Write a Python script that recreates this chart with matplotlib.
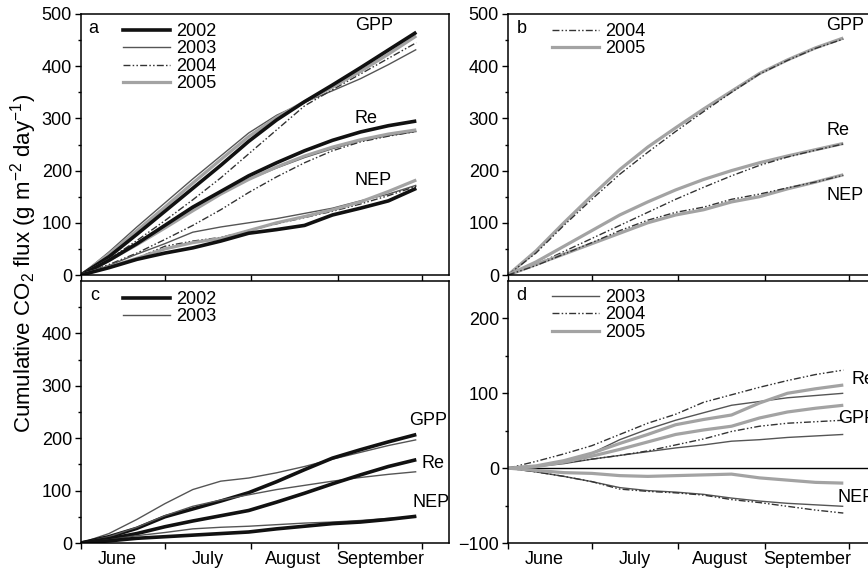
import matplotlib
matplotlib.use("Agg")
import matplotlib.pyplot as plt
from matplotlib.lines import Line2D
from matplotlib.ticker import FixedLocator, NullFormatter

plt.rcParams['font.family'] = ['Liberation Sans', 'DejaVu Sans']
plt.rcParams['mathtext.fontset'] = 'custom'
plt.rcParams['mathtext.rm'] = 'Liberation Sans'
plt.rcParams['mathtext.it'] = 'Liberation Sans:italic'

# days since 1 June
days = [0, 10, 20, 30, 40, 50, 60, 70, 80, 90, 100, 110, 120]
month_ticks = [0, 30, 61, 92, 122]
month_label_pos = [13, 45.5, 76, 107]
month_labels = ['June', 'July', 'August', 'September']

# panel a
a_gpp = {
    '2002': [0, 35, 78, 122, 166, 210, 256, 297, 332, 364, 397, 431, 465],
    '2003': [0, 44, 92, 138, 184, 228, 272, 306, 331, 353, 376, 403, 432],
    '2004': [0, 30, 66, 104, 144, 186, 232, 278, 324, 355, 385, 415, 445],
    '2005': [0, 40, 85, 130, 176, 221, 265, 302, 332, 360, 390, 423, 458],
}
a_re = {
    '2002': [0, 28, 60, 95, 130, 160, 190, 215, 238, 258, 274, 286, 295],
    '2003': [0, 30, 62, 95, 127, 157, 183, 205, 225, 242, 257, 267, 275],
    '2004': [0, 20, 42, 68, 95, 125, 158, 188, 215, 238, 255, 266, 275],
    '2005': [0, 28, 58, 90, 123, 155, 183, 207, 228, 245, 259, 270, 278],
}
a_nep = {
    '2002': [0, 14, 30, 42, 52, 65, 80, 87, 95, 115, 128, 142, 166],
    '2003': [0, 18, 40, 60, 82, 92, 100, 108, 118, 128, 142, 155, 172],
    '2004': [0, 14, 32, 55, 65, 72, 85, 98, 110, 122, 136, 152, 170],
    '2005': [0, 15, 32, 50, 62, 70, 85, 100, 112, 125, 140, 160, 182],
}

# panel b
b_gpp = {
    '2004': [0, 42, 95, 145, 193, 235, 275, 313, 350, 385, 411, 434, 452],
    '2005': [0, 46, 100, 152, 202, 245, 282, 318, 352, 386, 412, 435, 454],
}
b_re = {
    '2004': [0, 20, 45, 70, 95, 120, 145, 168, 190, 210, 226, 239, 251],
    '2005': [0, 25, 55, 85, 115, 140, 163, 183, 200, 215, 228, 240, 252],
}
b_nep = {
    '2004': [0, 18, 40, 62, 85, 105, 120, 130, 145, 155, 167, 178, 191],
    '2005': [0, 20, 40, 60, 80, 100, 115, 125, 140, 150, 165, 178, 192],
}

# panel c
c_gpp = {
    '2002': [0, 12, 28, 50, 65, 80, 96, 117, 140, 162, 178, 193, 207],
    '2003': [0, 18, 45, 75, 102, 118, 124, 134, 146, 160, 173, 186, 197],
}
c_re = {
    '2002': [0, 8, 18, 31, 42, 52, 62, 78, 95, 113, 130, 146, 159],
    '2003': [0, 12, 30, 52, 70, 82, 92, 102, 110, 118, 125, 131, 136],
}
c_nep = {
    '2002': [0, 4, 9, 12, 15, 18, 21, 27, 32, 37, 40, 45, 51],
    '2003': [0, 6, 14, 20, 27, 30, 32, 35, 38, 40, 43, 47, 50],
}

# panel d
d_gpp = {
    '2003': [0, 2, 6, 12, 17, 22, 27, 31, 36, 38, 41, 43, 45],
    '2004': [0, 3, 7, 12, 17, 23, 31, 39, 49, 56, 60, 62, 64],
    '2005': [0, 2, 8, 16, 25, 35, 45, 51, 56, 67, 75, 80, 84],
}
d_re = {
    '2003': [0, 3, 10, 20, 38, 52, 64, 74, 84, 89, 94, 97, 100],
    '2004': [0, 9, 19, 30, 45, 60, 72, 88, 98, 108, 117, 125, 131],
    '2005': [0, 3, 10, 20, 33, 45, 58, 65, 71, 87, 100, 106, 111],
}
d_nep = {
    '2003': [0, -5, -11, -18, -26, -30, -32, -35, -40, -44, -47, -49, -51],
    '2004': [0, -5, -11, -18, -28, -31, -33, -36, -42, -46, -51, -56, -60],
    '2005': [0, -3, -6, -7, -10, -11, -10, -9, -8, -13, -16, -19, -20],
}

styles = {
    '2002': dict(color='#111111', lw=2.6),
    '2003': dict(color='#555555', lw=1.0),
    '2004': dict(color='#333333', lw=1.0, dashes=[5, 1.6, 1.1, 1.6, 1.1, 1.6]),
    '2005': dict(color='#a3a3a3', lw=2.3),
}

W, H = 868, 569
fig = plt.figure(figsize=(W / 100, H / 100), dpi=100)


def px_axes(left, top, right, bottom):
    return fig.add_axes([left / W, 1 - bottom / H, (right - left) / W, (bottom - top) / H])


ax_a = px_axes(81, 14, 449, 275)
ax_b = px_axes(508, 14, 876, 275)
ax_c = px_axes(81, 281, 449, 543)
ax_d = px_axes(508, 281, 876, 543)

FS = 13


def setup(ax, ylim, yticks, yminor, show_x):
    ax.set_xlim(0, 131.7)
    ax.set_ylim(*ylim)
    ax.xaxis.set_major_locator(FixedLocator(month_ticks))
    ax.xaxis.set_major_formatter(NullFormatter())
    if show_x:
        ax.xaxis.set_minor_locator(FixedLocator(month_label_pos))
        ax.set_xticklabels(month_labels, minor=True)
    ax.tick_params(axis='x', which='minor', length=0, labelsize=FS, pad=6)
    ax.set_yticks(yticks)
    ax.yaxis.set_minor_locator(FixedLocator(yminor))
    ax.tick_params(axis='both', which='major', direction='out', length=4.5, width=1.0,
                   labelsize=FS, pad=2)
    ax.tick_params(axis='y', which='minor', direction='out', length=2.5, width=1.0)
    for s in ax.spines.values():
        s.set_linewidth(1.1)


def draw(ax, groups, years):
    for g in groups:
        for y in years:
            ax.plot(days, g[y], solid_capstyle='butt', **styles[y])


def legend(ax, years, x, y):
    handles = [Line2D([], [], **styles[yr]) for yr in years]
    ax.legend(handles, years, loc='upper left', bbox_to_anchor=(x, y), frameon=False,
              fontsize=FS, handlelength=2.6, handletextpad=0.35, labelspacing=0.03,
              borderpad=0, borderaxespad=0)


# a
setup(ax_a, (0, 500), [0, 100, 200, 300, 400, 500], [50, 150, 250, 350, 450], False)
draw(ax_a, [a_gpp, a_re, a_nep], ['2003', '2004', '2005', '2002'])
legend(ax_a, ['2002', '2003', '2004', '2005'], 0.115, 0.966)
ax_a.text(0.02, 0.945, 'a', transform=ax_a.transAxes, fontsize=FS, va='center')
ax_a.text(98, 478, 'GPP', fontsize=FS, va='center')
ax_a.text(98, 300, 'Re', fontsize=FS, va='center')
ax_a.text(98, 181, 'NEP', fontsize=FS, va='center')

# b
setup(ax_b, (0, 500), [0, 100, 200, 300, 400, 500], [50, 150, 250, 350, 450], False)
draw(ax_b, [b_gpp, b_re, b_nep], ['2005', '2004'])
legend(ax_b, ['2004', '2005'], 0.12, 0.966)
ax_b.text(0.025, 0.945, 'b', transform=ax_b.transAxes, fontsize=FS, va='center')
ax_b.text(114, 478, 'GPP', fontsize=FS, va='center')
ax_b.text(114, 277, 'Re', fontsize=FS, va='center')
ax_b.text(114, 152, 'NEP', fontsize=FS, va='center')

# c
setup(ax_c, (0, 500), [0, 100, 200, 300, 400], [50, 150, 250, 350, 450], True)
draw(ax_c, [c_gpp, c_re, c_nep], ['2003', '2002'])
legend(ax_c, ['2002', '2003'], 0.115, 0.962)
ax_c.text(0.025, 0.945, 'c', transform=ax_c.transAxes, fontsize=FS, va='center')
ax_c.text(117.5, 234, 'GPP', fontsize=FS, va='center')
ax_c.text(122, 152, 'Re', fontsize=FS, va='center')
ax_c.text(118.5, 78, 'NEP', fontsize=FS, va='center')

# d
setup(ax_d, (-100, 250), [-100, 0, 100, 200], [-50, 50, 150], True)
ax_d.axhline(0, color='black', lw=1.0)
draw(ax_d, [d_gpp, d_re, d_nep], ['2003', '2004', '2005'])
legend(ax_d, ['2003', '2004', '2005'], 0.12, 0.97)
ax_d.text(0.022, 0.945, 'd', transform=ax_d.transAxes, fontsize=FS, va='center')
ax_d.text(123, 119, 'Re', fontsize=FS, va='center')
ax_d.text(118, 66, 'GPP', fontsize=FS, va='center')
ax_d.text(118, -39, 'NEP', fontsize=FS, va='center')

fig.text(0.027, 1 - 263 / H, r'Cumulative CO$_2$ flux (g m$^{-2}$ day$^{-1}$)',
         rotation=90, ha='center', va='center', fontsize=16)

fig.savefig('out.png', dpi=100)
